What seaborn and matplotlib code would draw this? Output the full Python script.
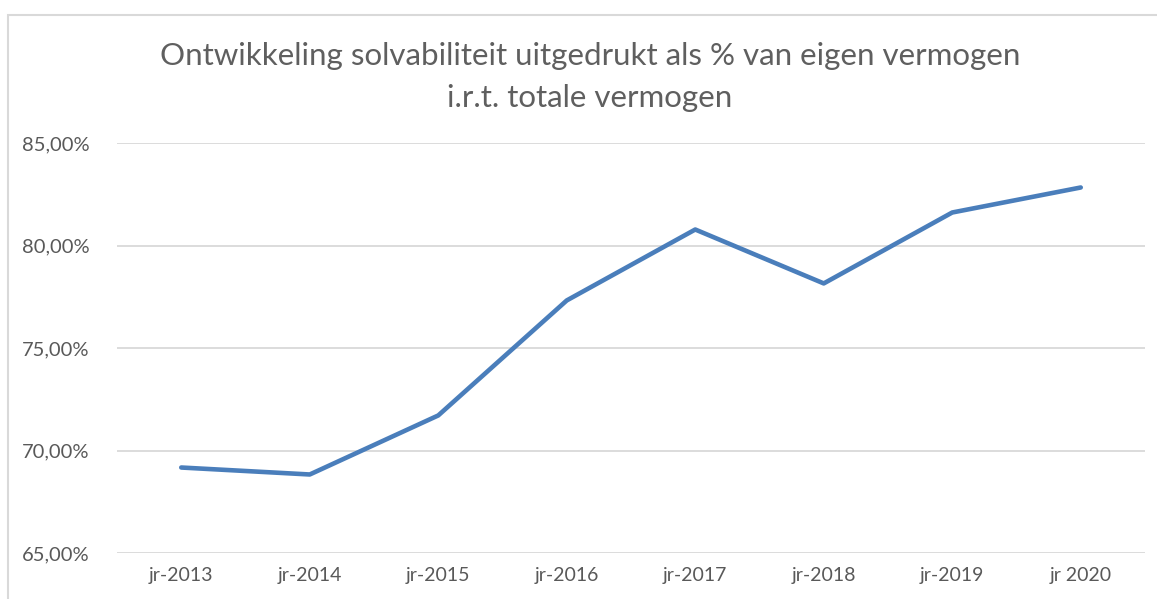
import matplotlib
matplotlib.use("Agg")
import matplotlib.pyplot as plt
from matplotlib.patches import Rectangle
from matplotlib.ticker import FuncFormatter
import seaborn as sns
import pandas as pd

# Solvency ratio per year (equity as % of total assets)
years = ["jr-2013", "jr-2014", "jr-2015", "jr-2016", "jr-2017", "jr-2018", "jr-2019", "jr 2020"]
solvency = [69.17, 68.83, 71.71, 77.32, 80.78, 78.15, 81.61, 82.83]
y_ticks = [65, 70, 75, 80, 85]

df = pd.DataFrame({"jaar": years, "solvabiliteit": solvency})

sns.set_theme(style="white")
plt.rcParams["font.family"] = ["Lato", "DejaVu Sans"]

W, H = 1157, 599
fig = plt.figure(figsize=(W / 100, H / 100), dpi=100)
fig.patch.set_facecolor("white")

# chart frame
fig.patches.append(Rectangle((8 / W, -0.1), 1.2, 1.1 - 15 / H, transform=fig.transFigure,
                             fill=False, edgecolor="#d9d9d9", linewidth=1.5))

ax = fig.add_axes([117 / W, (H - 553) / H, (1145 - 117) / W, (553 - 143) / H])

sns.lineplot(data=df, x="jaar", y="solvabiliteit", ax=ax, color="#4a7ebb",
             linewidth=3.3, sort=False, solid_capstyle="round", solid_joinstyle="round")

ax.set_xlim(-0.5, len(years) - 0.5)
ax.set_ylim(65, 85)
ax.set_yticks(y_ticks)
ax.yaxis.set_major_formatter(FuncFormatter(lambda v, p: f"{v:.2f}%".replace(".", ",")))
ax.grid(axis="y", color="#d9d9d9", linewidth=1.3)
ax.grid(axis="x", visible=False)
for s in ax.spines.values():
    s.set_visible(False)
ax.set_xlabel("")
ax.set_ylabel("")
ax.tick_params(axis="y", length=0, pad=20, labelsize=14.5, labelcolor="#595959")
ax.tick_params(axis="x", length=0, pad=10, labelsize=14, labelcolor="#595959")
for lbl in ax.get_yticklabels():
    lbl.set_horizontalalignment("right")

fig.text(590 / W, (H - 56) / H, "Ontwikkeling solvabiliteit uitgedrukt als % van eigen vermogen",
         ha="center", va="center", fontsize=22.5, color="#5f5f5f")
fig.text(590 / W, (H - 98) / H, "i.r.t. totale vermogen",
         ha="center", va="center", fontsize=22.5, color="#5f5f5f")

fig.savefig("out.png", dpi=100, facecolor="white")
